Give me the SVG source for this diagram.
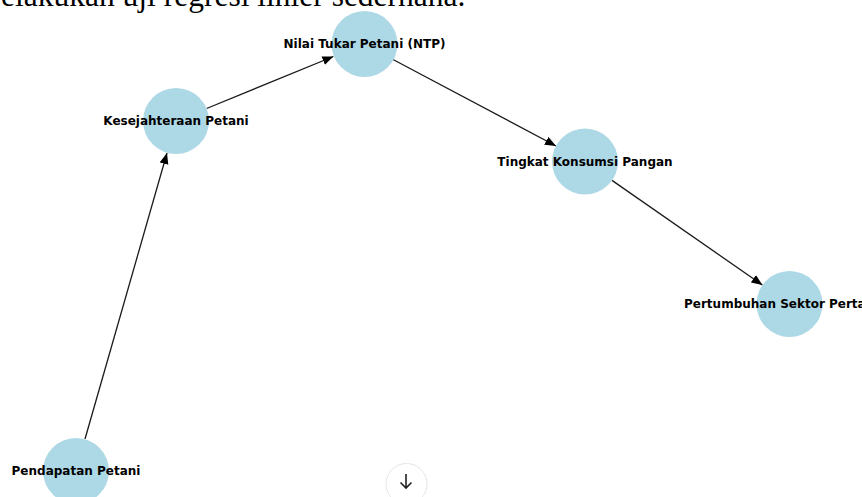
<svg xmlns="http://www.w3.org/2000/svg" width="862" height="497" viewBox="0 0 862 497">
<defs>
<style>
.node circle{fill:#add8e6;}
.node text{font-family:"DejaVu Sans",sans-serif;font-weight:bold;font-size:12px;fill:#000;text-anchor:middle;dominant-baseline:central;}
.edge{stroke:#1a1a1a;stroke-width:1.3;fill:none;marker-end:url(#arr);}
.top{font-family:"Liberation Serif","Times New Roman",serif;font-size:31.5px;fill:#000;}
</style>
<marker id="arr" markerUnits="userSpaceOnUse" markerWidth="12" markerHeight="10" refX="11" refY="4.5" orient="auto">
<path d="M0,0 L11,4.5 L0,9 z" fill="#000"/>
</marker>
</defs>
<rect width="862" height="497" fill="#fff"/>
<text class="top" x="1" y="6">elakukan uji regresi linier sederhana.</text>
<g id="edges">
<line class="edge" x1="85" y1="439" x2="167" y2="153"/>
<line class="edge" x1="206.6" y1="108.5" x2="333.4" y2="56.5"/>
<line class="edge" x1="393" y1="59.5" x2="556" y2="146"/>
<line class="edge" x1="612" y1="180.4" x2="762.4" y2="285"/>
</g>
<g id="node-ntp" class="node"><circle cx="364.5" cy="44" r="33"/><text x="364.5" y="44">Nilai Tukar Petani (NTP)</text></g>
<g id="node-kesejahteraan" class="node"><circle cx="176" cy="121" r="33"/><text x="176" y="120.5">Kesejahteraan Petani</text></g>
<g id="node-konsumsi" class="node"><circle cx="585" cy="161.5" r="33"/><text x="585" y="161.5">Tingkat Konsumsi Pangan</text></g>
<g id="node-pertumbuhan" class="node"><circle cx="789.5" cy="304" r="33"/><text x="789.5" y="304">Pertumbuhan Sektor Pertanian</text></g>
<g id="node-pendapatan" class="node"><circle cx="76" cy="471" r="33"/><text x="76" y="470.5">Pendapatan Petani</text></g>
<g id="scroll-button">
<circle cx="406.5" cy="484" r="20.5" fill="#fff" stroke="#e6e6e6" stroke-width="1"/>
<path d="M406 474 V488 M400.5 482.5 L406 488 L411.5 482.5" fill="none" stroke="#222" stroke-width="1.6"/>
</g>
</svg>
